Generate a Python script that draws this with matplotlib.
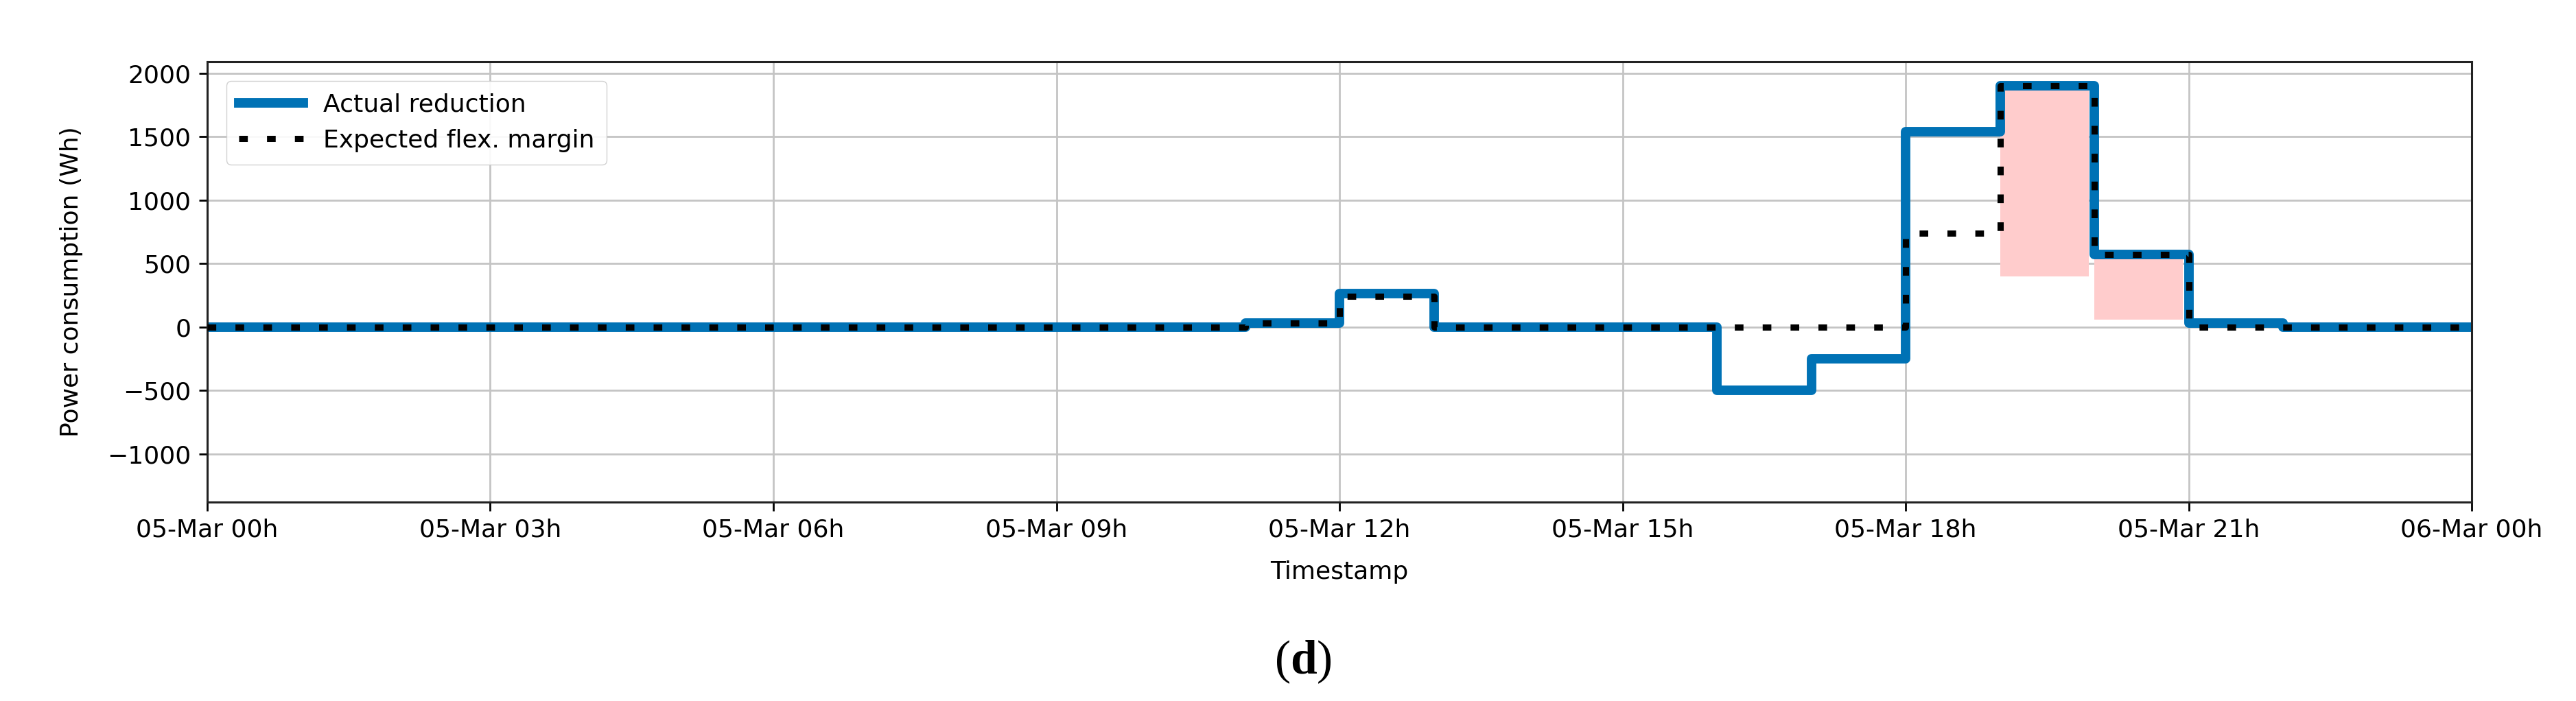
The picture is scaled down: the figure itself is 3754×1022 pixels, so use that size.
import numpy as np
import pandas as pd
import matplotlib
matplotlib.use('Agg')
import matplotlib.pyplot as plt
import matplotlib.dates as mdates

# hourly values, 05-Mar 00h .. 23h
hours = pd.date_range('2021-03-05 00:00', periods=25, freq='h')
actual = [0, 0, 0, 0, 0, 0, 0, 0, 0, 0, 0, 30, 265, 0, 0, 0, -500, -250, 1540, 1900, 570, 30, 0, 0]
expected = [0, 0, 0, 0, 0, 0, 0, 0, 0, 0, 0, 30, 240, 0, 0, 0, 0, 0, 740, 1900, 570, 0, 0, 0]
# shaded band, one block per hour
band_times = pd.date_range('2021-03-05 19:00', periods=2, freq='h')
band_low = [400, 55]
band_high = [1900, 570]

blue = '#0072b5'
fs = 26

plt.rcParams['font.family'] = 'DejaVu Sans'
plt.rcParams['mathtext.fontset'] = 'custom'
plt.rcParams['mathtext.rm'] = 'Liberation Serif'
plt.rcParams['mathtext.bf'] = 'Liberation Serif:bold'

fig = plt.figure(figsize=(37.55, 10.22), dpi=100)
ax = fig.add_axes([0.0804, 0.2838, 0.8789, 0.6281])

ax.bar(band_times, np.array(band_high) - np.array(band_low), bottom=band_low,
       width=0.94 / 24, align='edge', color='#ffcccc', lw=0, zorder=1)

ax.step(hours, actual + [actual[-1]], where='post', color=blue, lw=10,
        label='Actual reduction', zorder=2, solid_joinstyle='round')
ax.step(hours, expected + [expected[-1]], where='post', color='black', lw=6.5,
        dashes=(1.4, 3.1), label='Expected flex. margin', zorder=3)

ax.set_xlim(hours[0], hours[-1])
ax.set_ylim(-1380, 2090)
ax.set_yticks([-1000, -500, 0, 500, 1000, 1500, 2000])
ax.xaxis.set_major_locator(mdates.HourLocator(interval=3))
ax.xaxis.set_major_formatter(mdates.DateFormatter('%d-%b %Hh'))

ax.grid(True, color='#c4c4c4', lw=2)
ax.set_axisbelow(True)
for sp in ax.spines.values():
    sp.set_linewidth(2.2)
    sp.set_color('#222222')
ax.tick_params(axis='both', labelsize=fs, length=9, width=2, pad=8)

ax.set_xlabel('Timestamp', fontsize=fs, labelpad=20)
ax.set_ylabel('Power consumption (Wh)', fontsize=fs, labelpad=25)

ax.legend(loc='upper left', fontsize=fs, handlelength=2.6, borderpad=0.5,
          labelspacing=0.5, framealpha=0.9, bbox_to_anchor=(0.003, 0.985))

fig.text(0.5057, 0.056, r'($\mathbf{d}$)', fontsize=50, family='Liberation Serif',
         ha='center', va='center')

fig.savefig('out.png', dpi=100)
